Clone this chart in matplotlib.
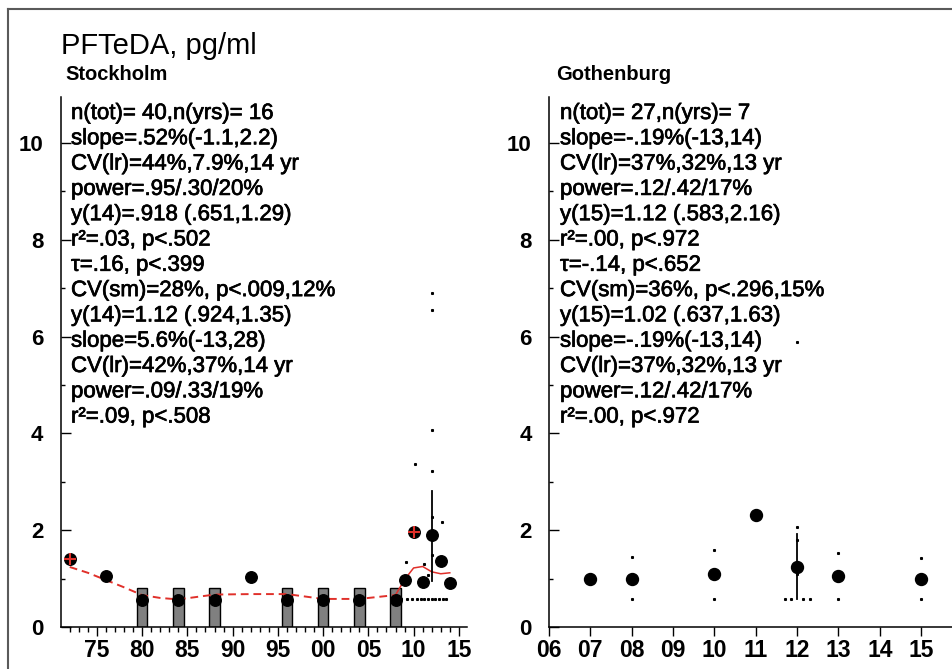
import matplotlib
matplotlib.use("Agg")
import matplotlib.pyplot as plt
from matplotlib.lines import Line2D
import matplotlib.patheffects as pe

plt.rcParams['font.family'] = ['Liberation Sans', 'DejaVu Sans']

# ---------------- data ----------------
title = "PFTeDA, pg/ml"
panel_titles = ["Stockholm", "Gothenburg"]

# Stockholm
sto_years = [1972, 1976, 1980, 1984, 1988, 1992, 1996, 2000, 2004, 2008,
             2009, 2010, 2011, 2012, 2013, 2014]
sto_values = [1.40, 1.05, 0.56, 0.56, 0.56, 1.03, 0.56, 0.56, 0.56, 0.56,
              0.97, 1.96, 0.93, 1.90, 1.37, 0.90]
sto_flag_years = [1972, 2010]
sto_flag_values = [1.40, 1.96]
sto_bar_years = [1980, 1984, 1988, 1996, 2000, 2004, 2008]
sto_bar_values = [0.80, 0.80, 0.80, 0.80, 0.80, 0.80, 0.80]
sto_smooth_years = [1972, 1974, 1976, 1978, 1980, 1982, 1984, 1986, 1988, 1992,
                    1996, 2000, 2004, 2008]
sto_smooth_values = [1.24, 1.12, 0.97, 0.82, 0.66, 0.60, 0.57, 0.62, 0.67, 0.68,
                     0.68, 0.58, 0.58, 0.66]
sto_recent_years = [2008, 2009, 2010, 2011, 2012, 2013, 2014]
sto_recent_values = [0.66, 0.98, 1.22, 1.25, 1.14, 1.10, 1.12]
sto_range_year = 2012
sto_range = [0.95, 2.82]
sto_ind_years = [2012, 2012, 2012, 2012, 2010.2, 2012, 2013.1, 2009.2, 2011.2,
                 2012, 2011.6,
                 2008.6, 2009.3, 2009.8, 2010.4, 2010.8, 2011.2, 2011.6,
                 2012.0, 2012.4, 2012.8, 2013.2, 2013.6]
sto_ind_values = [6.90, 6.54, 4.08, 3.22, 3.36, 2.27, 2.16, 1.34, 1.30,
                  1.49, 1.07,
                  0.58, 0.58, 0.58, 0.58, 0.58, 0.58, 0.58,
                  0.58, 0.58, 0.58, 0.58, 0.58]

# Gothenburg
got_years = [2007, 2008, 2010, 2011, 2012, 2013, 2015]
got_values = [0.99, 0.99, 1.09, 2.31, 1.24, 1.05, 0.99]
got_range_year = 2012
got_range = [0.58, 1.93]
got_ind_years = [2008, 2008, 2010, 2010, 2012, 2012, 2013, 2013, 2015, 2015,
                 2011.7, 2011.85, 2012.15, 2012.3, 2012, 2012]
got_ind_values = [1.45, 0.58, 1.60, 0.58, 2.06, 5.88, 1.52, 0.58, 1.42, 0.58,
                  0.58, 0.58, 0.58, 0.58, 1.80, 1.10]

sto_stats = [
    "n(tot)= 40,n(yrs)= 16",
    "slope=.52%(-1.1,2.2)",
    "CV(lr)=44%,7.9%,14 yr",
    "power=.95/.30/20%",
    "y(14)=.918 (.651,1.29)",
    "r\u00b2=.03, p<.502",
    "\u03c4=.16, p<.399",
    "CV(sm)=28%, p<.009,12%",
    "y(14)=1.12 (.924,1.35)",
    "slope=5.6%(-13,28)",
    "CV(lr)=42%,37%,14 yr",
    "power=.09/.33/19%",
    "r\u00b2=.09, p<.508",
]
got_stats = [
    "n(tot)= 27,n(yrs)= 7",
    "slope=-.19%(-13,14)",
    "CV(lr)=37%,32%,13 yr",
    "power=.12/.42/17%",
    "y(15)=1.12 (.583,2.16)",
    "r\u00b2=.00, p<.972",
    "\u03c4=-.14, p<.652",
    "CV(sm)=36%, p<.296,15%",
    "y(15)=1.02 (.637,1.63)",
    "slope=-.19%(-13,14)",
    "CV(lr)=37%,32%,13 yr",
    "power=.12/.42/17%",
    "r\u00b2=.00, p<.972",
]

sto_xticks = [1975, 1980, 1985, 1990, 1995, 2000, 2005, 2010, 2015]
sto_xticklabels = ["75", "80", "85", "90", "95", "00", "05", "10", "15"]
sto_xminor = list(range(1972, 2016))
got_xticks = list(range(2006, 2016))
got_xticklabels = ["06", "07", "08", "09", "10", "11", "12", "13", "14", "15"]
yticks = [0, 2, 4, 6, 8, 10]
yticklabels = ["0", "2", "4", "6", "8", "10"]
yminor = [1, 3, 5, 7, 9]

# ---------------- figure ----------------
W, H = 953, 669
fig = plt.figure(figsize=(W / 100, H / 100), dpi=100)

def px_axes(x0, x1, y0, y1):
    return fig.add_axes([x0 / W, 1 - y1 / H, (x1 - x0) / W, (y1 - y0) / H])

ax1 = px_axes(60.7, 467, 97, 627)
ax2 = px_axes(549, 953, 97, 627)

red = "#e0302a"
heavy = [pe.withStroke(linewidth=0.5, foreground="black")]
for ax in (ax1, ax2):
    ax.set_ylim(0, 10.95)
    for s in ("top", "right"):
        ax.spines[s].set_visible(False)
    for s in ("left", "bottom"):
        ax.spines[s].set_linewidth(1.1)
    ax.set_yticks(yticks)
    ax.set_yticklabels(yticklabels, fontsize=16, fontweight="bold")
    ax.set_yticks(yminor, minor=True)
    ax.tick_params(axis="y", which="major", direction="in", length=7, width=1,
                   pad=12.5)
    ax.tick_params(axis="y", which="minor", direction="in", length=3, width=1)
    ax.tick_params(axis="x", which="major", direction="out", length=6.5,
                   width=1, pad=2)
    ax.tick_params(axis="x", which="minor", direction="out", length=3.5,
                   width=1)

# Stockholm panel
ax1.set_xlim(1971, 2015.9)
ax1.set_xticks(sto_xticks)
ax1.set_xticklabels(sto_xticklabels, fontsize=16.5, fontweight="bold")
ax1.set_xticks(sto_xminor, minor=True)
ax1.bar(sto_bar_years, sto_bar_values, width=1.18, color="#808080",
        edgecolor="black", linewidth=1.0, zorder=2)
ax1.plot(sto_smooth_years, sto_smooth_values, color=red, lw=1.4,
         ls=(0, (4, 2.5)), zorder=3)
ax1.plot(sto_recent_years, sto_recent_values, color=red, lw=1.1, zorder=3)
ax1.plot([sto_range_year, sto_range_year], sto_range, color="black", lw=1.3,
         zorder=3)
ax1.plot(sto_ind_years, sto_ind_values, ls="none", marker="s", ms=1.2,
         color="black", zorder=3)
ax1.plot(sto_years, sto_values, ls="none", marker="o", ms=8.3,
         color="black", zorder=4)
ax1.plot(sto_flag_years, sto_flag_values, ls="none", marker="+", ms=8,
         mew=1.5, color=red, zorder=5)

# Gothenburg panel
ax2.set_xlim(2006, 2015.77)
ax2.set_xticks(got_xticks)
ax2.set_xticklabels(got_xticklabels, fontsize=16.5, fontweight="bold")
ax2.plot([got_range_year, got_range_year], got_range, color="black", lw=1.3,
         zorder=3)
ax2.plot(got_ind_years, got_ind_values, ls="none", marker="s", ms=1.2,
         color="black", zorder=3)
ax2.plot(got_years, got_values, ls="none", marker="o", ms=8.6,
         color="black", zorder=4)

# ---------------- texts ----------------
def ftext(xp, yp, s, **kw):
    fig.text(xp / W, 1 - yp / H, s, va="baseline", ha="left", **kw)

ftext(61, 54, title, fontsize=21)
ftext(65, 80, panel_titles[0], fontsize=14.5, fontweight="bold")
ftext(556, 80, panel_titles[1], fontsize=14.5, fontweight="bold")

for i, (a, b) in enumerate(zip(sto_stats, got_stats)):
    yb = 119 + 25.3 * i
    ftext(71, yb, a, fontsize=16, path_effects=heavy)
    ftext(560, yb, b, fontsize=16, path_effects=heavy)

# frame (top and left edges)
fig.add_artist(Line2D([8 / W, 8 / W], [0, 1 - 9 / H], transform=fig.transFigure,
                      color="#5a5a5a", lw=1.5))
fig.add_artist(Line2D([8 / W, 1], [1 - 9 / H, 1 - 9 / H], transform=fig.transFigure,
                      color="#5a5a5a", lw=1.5))

fig.savefig("out.png", dpi=100)
